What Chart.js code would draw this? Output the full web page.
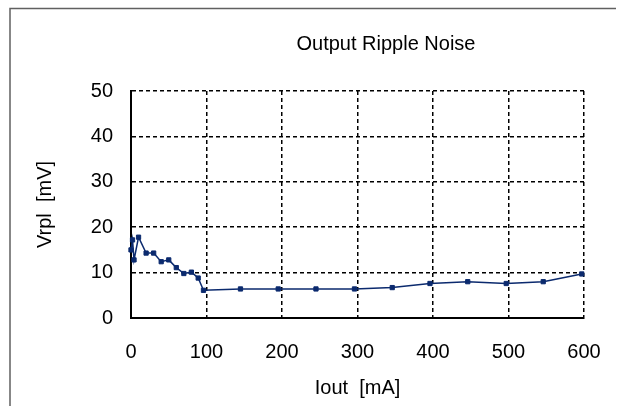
<!DOCTYPE html>
<html>
<head>
<meta charset="utf-8">
<script src="https://cdn.jsdelivr.net/npm/chart.js@4"></script>
<style>
  html, body { margin: 0; padding: 0; background: #fff; }
  #wrap { width: 627px; height: 406px; position: relative; }
</style>
</head>
<body>
<div id="wrap"><canvas id="c" width="627" height="406"></canvas></div>
<script>
const chartTitle = "Output Ripple Noise";
const xTitle = "Iout  [mA]";
const yTitle = "Vrpl  [mV]";
const currentMA = [0, 2, 4, 10, 20, 30, 40, 50, 60, 70, 80, 89, 96, 145, 195, 245, 296, 346, 396, 446, 497, 546, 597];
const rippleMV = [15.0, 17.2, 12.8, 17.8, 14.3, 14.3, 12.4, 12.8, 11.1, 9.8, 10.1, 8.8, 6.1, 6.4, 6.4, 6.4, 6.4, 6.7, 7.6, 8.0, 7.6, 8.0, 9.7];
const xTicks = [0, 100, 200, 300, 400, 500, 600];
const yTicks = [0, 10, 20, 30, 40, 50];

const FONT = "'Liberation Sans', Arial, sans-serif";

const frameAndTitle = {
  id: 'frameAndTitle',
  beforeDraw(chart) {
    const ctx = chart.ctx;
    ctx.save();
    ctx.fillStyle = '#ffffff';
    ctx.fillRect(0, 0, chart.width, chart.height);
    ctx.strokeStyle = '#606060';
    ctx.lineWidth = 1.5;
    ctx.beginPath();
    ctx.moveTo(10, 406);
    ctx.lineTo(10, 8.5);
    ctx.lineTo(616, 8.5);
    ctx.stroke();
    ctx.restore();
  },
  afterDraw(chart) {
    const ctx = chart.ctx;
    ctx.save();
    ctx.font = "20px " + FONT;
    ctx.fillStyle = '#000';
    ctx.textAlign = 'center';
    ctx.textBaseline = 'middle';
    ctx.fillText(chartTitle, 386, 44);
    ctx.restore();
  }
};

const pts = currentMA.map((x, i) => ({ x: x, y: rippleMV[i] }));

new Chart(document.getElementById('c'), {
  type: 'line',
  data: {
    datasets: [{
      data: pts,
      borderColor: '#0b2a6e',
      backgroundColor: '#0b2a6e',
      borderWidth: 1.5,
      pointStyle: 'rect',
      pointRadius: 3,
      pointBorderWidth: 1,
      tension: 0,
      clip: false
    }]
  },
  options: {
    responsive: false,
    animation: false,
    devicePixelRatio: 1,
    layout: { padding: { left: 0, top: 91, right: 43, bottom: 0 } },
    plugins: { legend: { display: false }, title: { display: false }, tooltip: { enabled: false } },
    scales: {
      x: {
        type: 'linear',
        min: 0, max: 600,
        afterBuildTicks(scale) { scale.ticks = xTicks.map(v => ({ value: v })); },
        afterFit(scale) { scale.height = 88; },
        ticks: { padding: 22, color: '#000', font: { family: FONT, size: 20 }, maxRotation: 0 },
        grid: { color: '#000', lineWidth: 1.5, drawTicks: false },
        border: { display: true, color: '#000', width: 2, dash: [4, 3] },
        title: { display: true, text: xTitle, color: '#000', font: { family: FONT, size: 20 }, padding: { top: 0, bottom: 6 } }
      },
      y: {
        type: 'linear',
        min: 0, max: 50,
        afterBuildTicks(scale) { scale.ticks = yTicks.map(v => ({ value: v })); },
        afterFit(scale) { scale.width = 131; },
        ticks: { padding: 18, color: '#000', font: { family: FONT, size: 20 } },
        grid: { color: '#000', lineWidth: 1.5, drawTicks: false },
        border: { display: true, color: '#000', width: 2, dash: [4, 3] },
        title: { display: true, text: yTitle, color: '#000', font: { family: FONT, size: 20 }, padding: { top: 33, bottom: 0 } }
      }
    }
  },
  plugins: [frameAndTitle]
});
</script>
</body>
</html>
